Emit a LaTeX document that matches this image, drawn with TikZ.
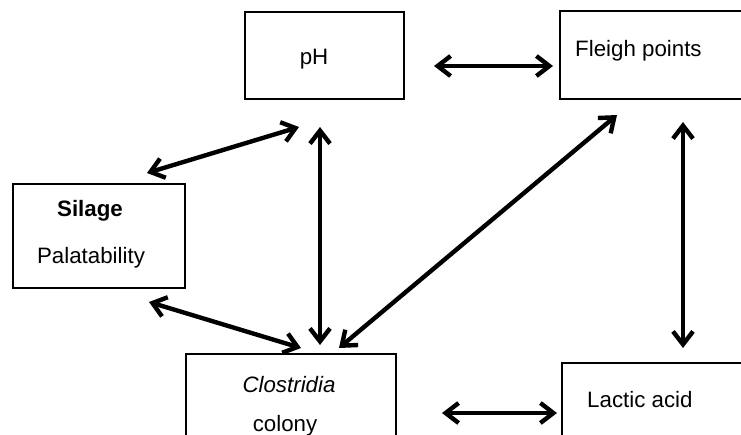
\documentclass[tikz,border=0pt]{standalone}
\usepackage{fontspec}
\setmainfont{Liberation Sans}
\usetikzlibrary{arrows.meta}
\begin{document}
\begin{tikzpicture}[x=1pt,y=-1pt,
  box/.style={draw,line width=2pt,anchor=north west,inner sep=0pt},
  lbl/.style={inner sep=0pt,font=\fontsize{22.3}{26}\selectfont},
  link/.style={{Straight Barb[length=13pt,width=20pt]}-{Straight Barb[length=13pt,width=20pt]},line width=4.4pt}]
\useasboundingbox (0,0) rectangle (741,434);

\node[box,minimum width=159pt,minimum height=87pt] (ph) at (244,11) {};
\node[box,minimum width=200pt,minimum height=88pt] (fleigh) at (559,10) {};
\node[box,minimum width=172pt,minimum height=104pt] (silage) at (12,183) {};
\node[box,minimum width=210pt,minimum height=120pt] (clos) at (185,353) {};
\node[box,minimum width=200pt,minimum height=120pt] (lactic) at (561,362) {};

\node[lbl,anchor=base] (phtxt) at (314,64) {pH};
\node[lbl,anchor=base west] (fleightxt) at (575,56) {Fleigh points};
\node[lbl,anchor=base] (silagetxt) at (90,216) {\textbf{Silage}};
\node[lbl,anchor=base] (palattxt) at (91,263) {Palatability};
\node[lbl,anchor=base] (clostxt) at (289,392) {\textit{Clostridia}};
\node[lbl,anchor=base] (colonytxt) at (285,431) {colony};
\node[lbl,anchor=base west] (lactictxt) at (587,407) {Lactic acid};

\draw[link] ([shift={(29,10.5)}]ph.east) -- ([shift={(-6,11)}]fleigh.west);
\draw[link] ([shift={(-39,-10)}]silage.north east) -- ([shift={(-25.5,27)}]ph.south);
\draw[link] ([shift={(-4.5,27)}]ph.south) -- ([shift={(29,-8)}]clos.north);
\draw[link] ([shift={(-37,13)}]silage.south east) -- ([shift={(10,-5)}]clos.north);
\draw[link] ([shift={(58,15)}]fleigh.south west) -- ([shift={(48,-5)}]clos.north);
\draw[link] ([shift={(124,22)}]fleigh.south west) -- ([shift={(122,-14)}]lactic.north west);
\draw[link] ([shift={(45,-1)}]clos.east) -- ([shift={(-4,-10)}]lactic.west);
\end{tikzpicture}
\end{document}
